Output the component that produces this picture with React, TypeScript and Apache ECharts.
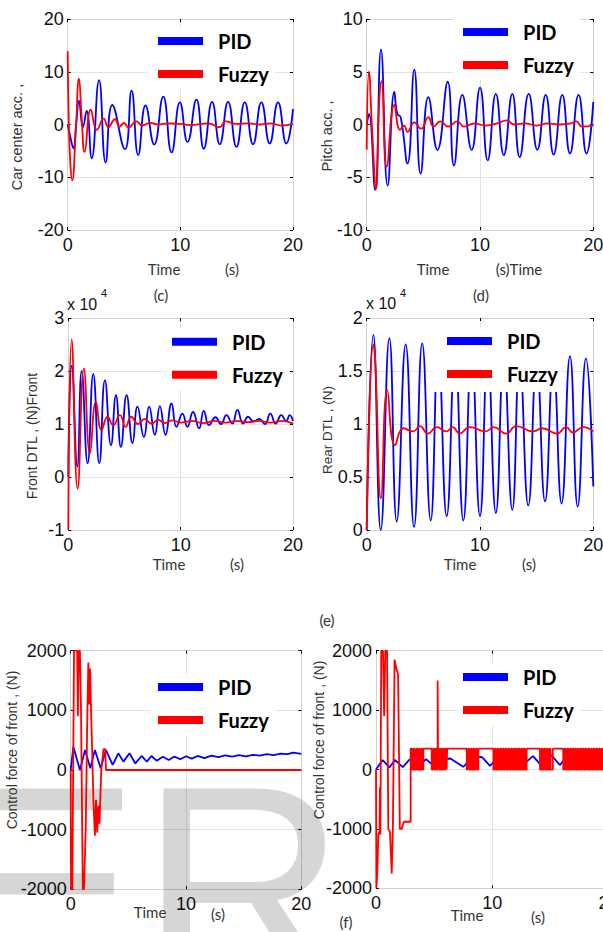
import React, { useEffect, useRef } from "react";
import * as echarts from "echarts";

type Pt = [number, number];

// Time axis (s) shared by every panel
const timeMin = 0;
const timeMax = 20;
const timeStep = 10;

// (c) car centre acceleration
const carAccPid: Pt[] = [
  [0, 0], [0.25, -2.5], [0.5, -4.5], [0.75, 0], [1.0, 4.5], [1.35, -0.5], [1.68, 2.6],
  [2.13, -6.4], [2.78, 8.4], [3.37, -7.2], [3.96, 3.7], [5.08, -4.7], [5.67, 6.4],
  [6.26, -5.8], [6.91, 3.6], [7.68, -3.8], [8.48, 5.3], [9.22, -5.3], [9.96, 4.2],
  [10.64, -3.3], [11.43, 4.7], [12.08, -4.6], [12.82, 4.3], [13.5, -3.75], [14.24, 4.3],
  [14.98, -4.25], [15.72, 4.2], [16.45, -3.75], [17.19, 4.2], [17.93, -3.6], [18.67, 4.2],
  [19.41, -3.6], [20, 2.9],
];
const carAccFuzzy: Pt[] = [
  [0, 13.9], [0.1, 0], [0.25, -8], [0.4, -10.6], [0.7, -2], [1.0, 8.7], [1.25, 1],
  [1.5, -5.2], [2.05, 2.8], [2.6, -1.0], [3.2, 1.1], [3.6, -0.5], [4.2, 1.0], [4.6, -0.4],
  [5.0, 0.3], [5.4, -0.6], [6.1, 0.6], [6.6, -0.2], [7.3, 0.3], [8.0, 0], [9.0, 0.2],
  [10.0, 0.1], [11.0, -0.1], [12.5, 0.2], [13.5, -0.5], [14.0, 0.6], [15, 0.1], [16, 0.2],
  [17, 0], [18, 0.2], [19, -0.2], [20, 0.1],
];

// (d) pitch acceleration
const pitchAccPid: Pt[] = [
  [0, 0], [0.2, 1.0], [0.74, -6.2], [1.26, 7.1], [1.85, -5.8], [2.44, 3.1], [2.7, 1.0],
  [3.0, 0.7], [3.6, -3.7], [4.2, 5.2], [4.76, -4.65], [5.44, 2.6], [6.24, -2.4],
  [7.15, 4.05], [7.7, -3.9], [8.44, 2.8], [9.26, -2.4], [10.0, 3.5], [10.68, -3.4],
  [11.4, 2.9], [12.1, -2.9], [12.85, 2.9], [13.5, -3.1], [14.3, 2.9], [15.06, -2.4],
  [15.8, 2.8], [16.5, -2.85], [17.26, 2.8], [17.94, -2.75], [18.7, 2.8], [19.4, -2.75],
  [20, 2.15],
];
const pitchAccFuzzy: Pt[] = [
  [0, -2.4], [0.2, 5.0], [0.5, -1], [0.82, -6.1], [1.1, 2], [1.3, 4.1], [1.76, -4.0],
  [2.44, 1.85], [2.94, -0.5], [3.3, -0.1], [3.6, -0.7], [4.2, 0.2], [4.8, -0.4],
  [5.44, 0.7], [5.9, -0.2], [6.5, 0.3], [7.2, -0.2], [8.0, 0.3], [8.6, -0.2], [9.5, 0.1],
  [10.5, -0.1], [11.5, 0.1], [12.35, 0.4], [13, 0], [14, 0.1], [15, -0.1], [16, 0.1],
  [17, 0], [18, 0.1], [18.5, 0.3], [19, -0.2], [20, -0.1],
];

// (e) dynamic tyre load, x 10^4 N
const frontDtlPid: Pt[] = [
  [0, 0], [0.05, 0.9], [0.3, 2.1], [0.8, 0.2], [1.19, 2.0], [1.72, 0.26], [2.22, 1.95],
  [2.76, 0.26], [3.26, 1.83], [3.8, 0.6], [4.24, 1.55], [4.68, 0.57], [5.19, 1.55],
  [5.72, 0.64], [6.16, 1.33], [6.73, 0.76], [7.2, 1.33], [7.7, 0.8], [8.15, 1.34],
  [8.65, 0.8], [9.19, 1.39], [9.63, 0.95], [10.16, 1.2], [10.6, 0.95], [11.1, 1.23],
  [11.64, 0.92], [12.06, 1.25], [12.53, 0.98], [13.1, 1.13], [13.6, 1.0], [14.07, 1.17],
  [14.6, 1.01], [15.05, 1.27], [15.56, 1.01], [16.0, 1.14], [16.5, 1.05], [16.98, 1.1],
  [17.5, 1.0], [17.98, 1.2], [18.46, 1.01], [18.96, 1.17], [19.4, 1.06], [19.7, 1.17],
  [20, 1.06],
];
const frontDtlFuzzy: Pt[] = [
  [0, -1], [0.3, 2.6], [0.83, -0.22], [1.39, 2.05], [1.93, 0.45], [2.46, 1.42],
  [2.96, 0.89], [3.5, 1.14], [4.0, 0.98], [4.6, 1.17], [5.1, 0.95], [5.6, 1.14], [6.2, 1.0],
  [6.8, 1.1], [7.4, 1.01], [8, 1.08], [8.6, 1.02], [9.3, 1.07], [10, 1.03], [11, 1.06],
  [12, 1.02], [13, 1.06], [14, 1.03], [15, 1.06], [16, 1.04], [17, 1.06], [18, 1.03],
  [19, 1.06], [20, 1.01],
];
const rearDtlPid: Pt[] = [
  [0, 0], [0.59, 1.84], [1.24, 0], [2.0, 1.81], [2.65, 0.08], [3.44, 1.75], [4.18, 0.03],
  [4.9, 1.76], [5.65, 0.09], [6.32, 1.7], [7.06, 0.13], [7.8, 1.68], [8.53, 0.09],
  [9.26, 1.66], [10.0, 0.13], [10.68, 1.66], [11.4, 0.16], [12.1, 1.64], [12.85, 0.19],
  [13.5, 1.62], [14.26, 0.23], [15.0, 1.6], [15.74, 0.27], [16.47, 1.58], [17.2, 0.25],
  [17.94, 1.64], [18.62, 0.22], [19.35, 1.62], [20, 0.41],
];
const rearDtlFuzzy: Pt[] = [
  [0, 0], [0.59, 1.75], [0.75, 1.6], [1.26, 0.3], [1.82, 1.32], [2.5, 0.8], [3.24, 0.96],
  [4.1, 0.93], [4.7, 0.98], [5.4, 0.91], [6.2, 0.97], [7, 0.93], [7.6, 0.97], [8.2, 0.91],
  [9.1, 0.97], [10.5, 0.93], [11.2, 0.97], [12.3, 0.91], [13.2, 0.98], [14.7, 0.93],
  [15.5, 0.96], [16.8, 0.91], [17.6, 0.97], [18.2, 0.92], [19.1, 0.97], [20, 0.93],
];

// (f) control forces, N
const frontForcePid: Pt[] = [
  [0, 0], [0.23, 390], [0.8, 0], [1.25, 335], [1.7, 30], [2.1, 335], [2.6, 30],
  [3.06, 335], [3.64, 85], [4.13, 280], [4.57, 140], [5.1, 280], [5.6, 110], [6.15, 235],
  [6.6, 140], [7.0, 235], [7.45, 156], [8.0, 223], [8.5, 168], [9.0, 225], [9.5, 180],
  [10, 230], [10.5, 190], [11, 235], [11.6, 200], [12.2, 240], [12.8, 215], [13.4, 245],
  [14, 225], [14.6, 250], [15.2, 230], [15.8, 255], [16.4, 240], [17, 265], [17.6, 250],
  [18.2, 275], [18.8, 265], [19.3, 290], [20, 270],
];
const frontForceFuzzy: Pt[] = [
  [0, 0], [0.03, -2000], [0.14, -2000], [0.29, 2000], [0.56, 2000], [0.62, 900],
  [0.7, 2000], [0.8, 2000], [0.9, 900], [1.05, -2000], [1.15, -2000], [1.3, -1000],
  [1.45, 1000], [1.53, 1800], [1.6, 1100], [1.68, 1700], [1.78, 900], [1.97, -500],
  [2.1, -1100], [2.2, -500], [2.3, -1050], [2.4, -600], [2.5, -900], [2.65, 0],
  [2.85, 350], [3.0, 350], [3.06, 0], [20, 0],
];
const rearForcePid: Pt[] = [
  [0, 0], [0.57, 160], [1.15, 35], [1.63, 160], [2.3, 40], [2.9, 170], [3.6, 50],
  [4.3, 175], [5.0, 55], [5.7, 180], [6.4, 185], [7.5, 45], [8.3, 200], [9.1, 213],
  [9.8, 60], [10.5, 210], [11.2, 70], [11.9, 215], [12.6, 75], [13.5, 225], [14.2, 70],
  [15.1, 240], [15.8, 75], [16.5, 230], [17.2, 80], [17.9, 235], [18.6, 80], [19.3, 235],
  [20, 90],
];
// transient part of the fuzzy rear force
const rearForceFuzzyTransient: Pt[] = [
  [0, 0], [0.03, -2000], [0.12, -1700], [0.2, -1100], [0.3, -1050], [0.34, -300],
  [0.38, -1100], [0.45, 2000], [0.6, 2000], [0.7, 900], [0.8, 2000], [0.95, 2000],
  [1.06, -1000], [1.2, -1050], [1.35, -1750], [1.45, -1000], [1.6, 1850], [1.75, 1700],
  [1.9, 1600], [2.05, -1000], [2.2, -1000], [2.4, -880], [2.98, -880],
];
// switching instants of the fuzzy rear force afterwards: [time, new level]
const rearForceFuzzySwitches: Pt[] = [
  [2.98, 350], [3.10, 0], [3.22, 350], [3.30, 0], [3.45, 350], [3.55, 0], [3.68, 350],
  [3.76, 0], [3.90, 350], [3.98, 0], [4.07, 350],
  [4.79, 0], [4.90, 350], [5.02, 0], [5.12, 350], [5.22, 0], [5.30, 1500], [5.33, 350],
  [5.45, 0], [5.56, 350], [5.66, 0], [5.78, 350], [5.88, 0], [5.98, 350], [6.07, 0], [6.12, 350],
  [7.80, 0], [7.92, 350], [8.02, 0], [8.14, 350], [8.24, 0], [8.36, 350], [8.46, 0],
  [8.58, 350], [8.68, 0], [8.80, 350],
  [10.10, 0], [10.22, 350], [10.32, 0], [10.45, 350], [10.55, 0], [10.68, 350], [10.78, 0],
  [10.90, 350], [11.00, 0], [11.12, 350], [11.22, 0], [11.35, 350], [11.45, 0], [11.58, 350],
  [11.68, 0], [11.80, 350], [11.90, 0], [12.02, 350], [12.12, 0], [12.25, 350], [12.35, 0],
  [12.48, 350], [12.58, 0], [12.70, 350], [12.80, 0], [12.95, 350],
  [14.10, 0], [14.22, 350], [14.32, 0], [14.45, 350], [14.55, 0], [14.68, 350], [14.78, 0],
  [14.90, 350], [15.00, 0], [15.20, 350],
  [16.10, 0], [16.22, 350], [16.32, 0], [16.45, 350], [16.55, 0], [16.68, 350], [16.78, 0],
  [16.90, 350], [17.00, 0], [17.12, 350], [17.22, 0], [17.35, 350], [17.45, 0], [17.58, 350],
  [17.68, 0], [17.80, 350], [17.90, 0], [18.02, 350], [18.12, 0], [18.25, 350], [18.35, 0],
  [18.48, 350], [18.58, 0], [18.70, 350], [18.80, 0], [18.92, 350], [19.02, 0], [19.15, 350],
  [19.25, 0], [19.38, 350], [19.48, 0], [19.60, 350], [19.70, 0], [19.82, 350], [19.92, 0],
];

const BLUE = "#0000ff";
const RED = "#ff0000";
const GRID_LINE = "#e3e3e3";
const BOX_LINE = "#d2d2d2";
const SANS = '"Liberation Sans", Arial, sans-serif';
const SOFT = 'Lato, "Open Sans", sans-serif';

// hold each level until the next switching instant
function switchedTrace(head: Pt[], switches: Pt[], end: number): Pt[] {
  const out: Pt[] = head.slice();
  let level = head[head.length - 1][1];
  for (const [t, v] of switches) {
    out.push([t, level]);
    out.push([t, v]);
    level = v;
  }
  out.push([end, level]);
  return out;
}

type Panel = {
  pid: Pt[];
  fuzzy: Pt[];
  yMin: number;
  yMax: number;
  yStep: number;
  smooth: number | boolean;
};

const panels: Panel[] = [
  { pid: carAccPid, fuzzy: carAccFuzzy, yMin: -20, yMax: 20, yStep: 10, smooth: 0.5 },
  { pid: pitchAccPid, fuzzy: pitchAccFuzzy, yMin: -10, yMax: 10, yStep: 5, smooth: 0.5 },
  { pid: frontDtlPid, fuzzy: frontDtlFuzzy, yMin: -1, yMax: 3, yStep: 1, smooth: 0.5 },
  { pid: rearDtlPid, fuzzy: rearDtlFuzzy, yMin: 0, yMax: 2, yStep: 0.5, smooth: 0.5 },
  { pid: frontForcePid, fuzzy: frontForceFuzzy, yMin: -2000, yMax: 2000, yStep: 1000, smooth: false },
  {
    pid: rearForcePid,
    fuzzy: switchedTrace(rearForceFuzzyTransient, rearForceFuzzySwitches, timeMax),
    yMin: -2000, yMax: 2000, yStep: 1000, smooth: false,
  },
];

// plot boxes
const boxes = [
  { left: 67.7, top: 19, width: 225.3, height: 211 },
  { left: 366.7, top: 19, width: 226.6, height: 211 },
  { left: 68.3, top: 318.3, width: 224.7, height: 211.7 },
  { left: 366.7, top: 318, width: 226.6, height: 212 },
  { left: 70.7, top: 650.7, width: 230.6, height: 238.6 },
  { left: 376, top: 650.7, width: 232.6, height: 237.6 },
];

// legend anchor: left edge of the key line, centre of the first row, box padding
const legendSpots = [
  { x: 158, y: 41, pad: [3, 6, 5, 11] },
  { x: 463, y: 32, pad: [3, 6, 5, 10] },
  { x: 172, y: 341.7, pad: [3, 6, 5, 5] },
  { x: 447, y: 341, pad: [4, 4, 8, 14] },
  { x: 158, y: 687, pad: [3, 6, 5, 8] },
  { x: 463, y: 677, pad: [3, 6, 5, 6] },
];

const yTitles = [
  { text: "Car center acc. ,", x: 17, y: 137, size: 14.5 },
  { text: "Pitch acc. ,", x: 327, y: 136, size: 14.5 },
  { text: "Front DTL , (N)Front", x: 32, y: 436, size: 14 },
  { text: "Rear DTL , (N)", x: 327, y: 430, size: 13.5 },
  { text: "Control force of front , (N)", x: 12, y: 750, size: 14 },
  { text: "Control force of front , (N)", x: 319, y: 740, size: 14 },
];

const captions = [
  { text: "Time", x: 164, y: 269 }, { text: "(s)", x: 232, y: 269 }, { text: "(c)", x: 161, y: 295 },
  { text: "Time", x: 433, y: 269 }, { text: "(s)Time", x: 519, y: 269 }, { text: "(d)", x: 481, y: 295 },
  { text: "Time", x: 169, y: 564 }, { text: "(s)", x: 237, y: 564 },
  { text: "Time", x: 460, y: 564 }, { text: "(s)", x: 529, y: 564 },
  { text: "(e)", x: 327, y: 620 },
  { text: "Time", x: 150, y: 912 }, { text: "(s)", x: 218, y: 914 },
  { text: "Time", x: 467, y: 915 }, { text: "(s)", x: 538, y: 917 }, { text: "(f)", x: 346, y: 922 },
];

const exponents = [
  { x: 67, y: 304, sx: 101, sy: 293 },
  { x: 366, y: 303, sx: 400, sy: 293 },
];

const plainNumber = (v: number) => String(v);

function buildOption(): echarts.EChartsOption {
  const grid = boxes.map((b) => ({ ...b, containLabel: false, outerBoundsMode: "none" }));
  const xAxis: any[] = [];
  const yAxis: any[] = [];
  const series: any[] = [];

  panels.forEach((p, i) => {
    const xBase = {
      type: "value",
      gridIndex: i,
      min: timeMin,
      max: timeMax,
      interval: timeStep,
      axisLine: { show: true, onZero: false, lineStyle: { color: BOX_LINE, width: 1 } },
      axisTick: { show: true, inside: true, length: 3, lineStyle: { color: "#000", width: 1 } },
    };
    xAxis.push({
      ...xBase,
      position: "bottom",
      axisLabel: {
        show: true, margin: 6, fontSize: 18, fontFamily: SANS, color: "#111",
        showMinLabel: true, showMaxLabel: true, formatter: plainNumber,
      },
      splitLine: { show: true, lineStyle: { color: GRID_LINE, width: 1 } },
    });
    xAxis.push({ ...xBase, position: "top", axisLabel: { show: false }, splitLine: { show: false } });

    const yBase = {
      type: "value",
      gridIndex: i,
      min: p.yMin,
      max: p.yMax,
      interval: p.yStep,
      axisLine: { show: true, onZero: false, lineStyle: { color: BOX_LINE, width: 1 } },
      axisTick: { show: true, inside: true, length: 3, lineStyle: { color: "#000", width: 1 } },
    };
    yAxis.push({
      ...yBase,
      position: "left",
      axisLabel: {
        show: true, margin: 4, fontSize: 18, fontFamily: SANS, color: "#111",
        showMinLabel: true, showMaxLabel: true, formatter: plainNumber,
      },
      splitLine: { show: true, lineStyle: { color: GRID_LINE, width: 1 } },
    });
    yAxis.push({ ...yBase, position: "right", axisLabel: { show: false }, splitLine: { show: false } });

    const common = {
      type: "line",
      xAxisIndex: 2 * i,
      yAxisIndex: 2 * i,
      showSymbol: false,
      symbol: "none",
      smooth: p.smooth,
      clip: true,
      silent: true,
    };
    series.push({ ...common, name: "PID", data: p.pid, color: BLUE, lineStyle: { color: BLUE, width: 1.8 } });
    series.push({ ...common, name: "Fuzzy", data: p.fuzzy, color: RED, lineStyle: { color: RED, width: 1.8 } });
  });

  const legend = legendSpots.map((s) => ({
    orient: "vertical",
    left: s.x - s.pad[3],
    top: s.y - 10 - s.pad[0],
    padding: s.pad,
    itemWidth: 45,
    itemHeight: 8,
    itemGap: 13,
    icon: "rect",
    backgroundColor: "#ffffff",
    selectedMode: false,
    data: ["PID", "Fuzzy"],
    textStyle: {
      fontFamily: SOFT, fontWeight: "bold", fontSize: 20, color: "#000",
      padding: [0, 0, 0, 10],
    },
  }));

  const elements: any[] = [];
  // faint lettering printed across the lower panels
  elements.push({
    type: "text", x: -50, y: 743, z: 1, silent: true,
    style: {
      text: "ER", fontFamily: SANS, fontSize: 285, fill: "rgba(0,0,0,0.16)",
      align: "left", verticalAlign: "top",
    },
  });
  yTitles.forEach((t) => {
    elements.push({
      type: "text", x: t.x, y: t.y, rotation: Math.PI / 2, z: 10,
      style: { text: t.text, fontFamily: SANS, fontSize: t.size, fill: "#333", align: "center", verticalAlign: "middle" },
    });
  });
  captions.forEach((c) => {
    elements.push({
      type: "text", x: c.x, y: c.y, z: 10,
      style: { text: c.text, fontFamily: SOFT, fontSize: 15, fill: "#333", align: "center", verticalAlign: "middle" },
    });
  });
  exponents.forEach((e) => {
    elements.push({
      type: "text", x: e.x, y: e.y, z: 10,
      style: { text: "x 10", fontFamily: SANS, fontSize: 16, fill: "#111", align: "left", verticalAlign: "middle" },
    });
    elements.push({
      type: "text", x: e.sx, y: e.sy, z: 10,
      style: { text: "4", fontFamily: SANS, fontSize: 11, fill: "#111", align: "left", verticalAlign: "middle" },
    });
  });

  return {
    animation: false,
    backgroundColor: "#ffffff",
    grid,
    xAxis,
    yAxis,
    series,
    legend,
    graphic: { elements },
  } as any;
}

export default function App() {
  const ref = useRef<HTMLDivElement>(null);

  useEffect(() => {
    document.body.style.margin = "0";
    if (!ref.current) return;
    const chart = echarts.init(ref.current, undefined, { renderer: "svg" });
    chart.setOption(buildOption());
    return () => chart.dispose();
  }, []);

  return <div ref={ref} style={{ width: 603, height: 932 }} />;
}
